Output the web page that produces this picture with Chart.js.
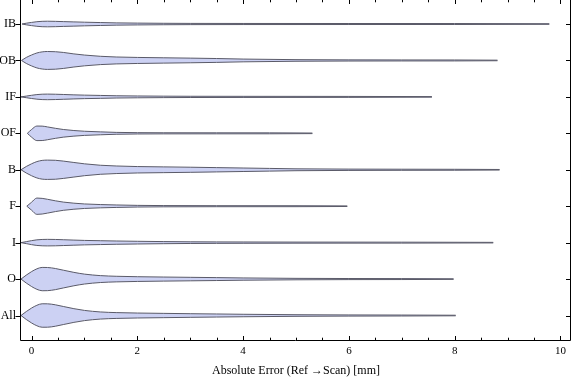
<!DOCTYPE html>
<html>
<head>
<meta charset="utf-8">
<script src="https://cdn.jsdelivr.net/npm/chart.js@4/dist/chart.umd.min.js"></script>
<style>
html,body{margin:0;padding:0;background:#fff;}
#wrap{width:576px;height:381px;position:relative;}
</style>
</head>
<body>
<div id="wrap"><canvas id="c" width="576" height="381"></canvas></div>
<script>
// ---- data ----
const categories = ['IB','OB','IF','OF','B','F','I','O','All'];
const xLabelTicks = [0, 2, 4, 6, 8, 10];
const axisTitle = 'Absolute Error (Ref \u2192Scan) [mm]';
const maxima = [9.79, 8.81, 7.57, 5.31, 8.85, 5.97, 8.73, 7.98, 8.02];

// density outline samples: x positions and half widths (category units) per violin
const xsIB  = [-0.18,-0.1,0,0.1,0.2,0.3,0.45,0.6,0.8,1.0,1.3,1.6,2.0,2.5,3.0,4.0,6.0,8.0];
const hwIB  = [0,0.022,0.044,0.063,0.074,0.077,0.073,0.066,0.058,0.050,0.040,0.031,0.025,0.020,0.017,0.015,0.014,0.013];
const xsOB  = [-0.19,-0.1,0,0.1,0.2,0.3,0.45,0.6,0.8,1.0,1.3,1.6,2.0,2.5,3.0,3.5,4.0,5.0,6.0,7.0,8.0];
const hwOB  = [0,0.082,0.150,0.205,0.235,0.246,0.240,0.220,0.180,0.148,0.114,0.095,0.083,0.073,0.064,0.053,0.038,0.022,0.016,0.014,0.013];
const xsIF  = [-0.2,-0.1,0,0.1,0.2,0.3,0.45,0.6,0.8,1.0,1.3,1.6,2.0,2.5,3.0,4.0,6.0];
const hwIF  = [0,0.022,0.044,0.063,0.074,0.077,0.073,0.066,0.056,0.048,0.040,0.031,0.025,0.020,0.017,0.015,0.013];
const xsOF  = [-0.08,0,0.1,0.2,0.3,0.45,0.6,0.8,1.0,1.3,1.6,2.0,2.5,3.5,4.5];
const hwOF  = [0,0.105,0.200,0.198,0.176,0.138,0.105,0.077,0.057,0.040,0.026,0.018,0.015,0.014,0.013];
const xsB   = [-0.2,-0.1,0,0.1,0.2,0.3,0.45,0.6,0.8,1.0,1.3,1.6,2.0,2.5,3.0,3.5,4.0,4.5,5.0,6.0,7.0,8.0];
const hwB   = [0,0.090,0.164,0.224,0.257,0.265,0.260,0.238,0.200,0.163,0.124,0.104,0.088,0.079,0.070,0.059,0.048,0.037,0.026,0.018,0.015,0.013];
const xsF   = [-0.09,0,0.1,0.2,0.3,0.45,0.6,0.8,1.0,1.3,1.6,2.0,2.5,3.5,5.0];
const hwF   = [0,0.109,0.224,0.215,0.190,0.148,0.113,0.083,0.062,0.045,0.034,0.023,0.017,0.014,0.013];
const xsI   = [-0.2,-0.1,0,0.1,0.2,0.3,0.45,0.6,0.8,1.0,1.3,1.6,2.0,2.5,3.0,3.5,4.0,5.0,7.0];
const hwI   = [0,0.027,0.055,0.077,0.087,0.090,0.087,0.080,0.070,0.061,0.053,0.045,0.037,0.029,0.023,0.020,0.018,0.015,0.013];
const xsO   = [-0.2,-0.1,0,0.1,0.2,0.3,0.45,0.6,0.8,1.0,1.3,1.6,2.0,2.5,3.0,3.5,4.0,5.0,6.0,7.0];
const hwO   = [0,0.109,0.205,0.281,0.320,0.318,0.290,0.244,0.184,0.136,0.095,0.077,0.065,0.056,0.048,0.040,0.031,0.020,0.015,0.013];
const xsAll = [-0.2,-0.1,0,0.1,0.2,0.3,0.45,0.6,0.8,1.0,1.3,1.6,2.0,2.5,3.0,3.5,4.0,5.0,6.0,7.0];
const hwAll = [0,0.109,0.205,0.281,0.322,0.321,0.294,0.248,0.188,0.140,0.098,0.080,0.068,0.059,0.050,0.042,0.034,0.022,0.016,0.013];

const shapes = [[xsIB,hwIB],[xsOB,hwOB],[xsIF,hwIF],[xsOF,hwOF],[xsB,hwB],[xsF,hwF],[xsI,hwI],[xsO,hwO],[xsAll,hwAll]];

// ---- build datasets ----
const fillColor = '#ccd1f3';
const lineColor = '#5a5a68';
const datasets = [];
categories.forEach((cat, i) => {
  const center = categories.length - i;
  const [xs, hw] = shapes[i];
  const up = [], lo = [];
  xs.forEach((x, k) => { if (x < maxima[i]) { up.push({x, y: center + hw[k]}); lo.push({x, y: center - hw[k]}); } });
  up.push({x: maxima[i], y: center + 0.008});
  lo.push({x: maxima[i], y: center - 0.008});
  const common = {borderColor: lineColor, borderWidth: 1, pointRadius: 0, cubicInterpolationMode: 'monotone'};
  datasets.push(Object.assign({label: cat + ' upper', data: up, fill: false}, common));
  datasets.push(Object.assign({label: cat + ' lower', data: lo, fill: '-1', backgroundColor: fillColor}, common));
});

// frame + inward ticks plugin
const framePlugin = {
  id: 'frame',
  afterDraw(chart) {
    const ctx = chart.ctx, a = chart.chartArea;
    const xs = chart.scales.x, ys = chart.scales.y;
    ctx.save();
    ctx.strokeStyle = '#000';
    ctx.lineWidth = 1;
    const L = Math.round(a.left) - 0.5, R = Math.round(a.right) - 0.5, B = Math.round(a.bottom) + 0.5, T = Math.round(a.top) - 0.5;
    ctx.beginPath();
    ctx.moveTo(L, T); ctx.lineTo(L, B); ctx.lineTo(R, B); ctx.lineTo(R, T);
    ctx.stroke();
    ctx.beginPath();
    for (let v = 0; v <= 10.001; v += 0.5) {
      const px = Math.round(xs.getPixelForValue(v)) + 0.5;
      const major = Math.abs(v - Math.round(v / 2) * 2) < 1e-6;
      const len = major ? 4.5 : 2.8;
      ctx.moveTo(px, B); ctx.lineTo(px, B - len);
      ctx.moveTo(px, T); ctx.lineTo(px, T + len);
    }
    categories.forEach((c, i) => {
      const py = Math.round(ys.getPixelForValue(categories.length - i)) + 0.5;
      ctx.moveTo(L - 5, py); ctx.lineTo(L, py);
      ctx.moveTo(R, py); ctx.lineTo(R - 4.5, py);
    });
    ctx.stroke();
    ctx.restore();
  }
};

new Chart(document.getElementById('c'), {
  type: 'line',
  data: {datasets},
  options: {
    responsive: false,
    animation: false,
    events: [],
    layout: {padding: {left: 0, right: 5, top: 0, bottom: 0}},
    plugins: {legend: {display: false}, tooltip: {enabled: false}},
    scales: {
      x: {
        type: 'linear', min: -0.2, max: 10.2,
        grid: {display: false, drawTicks: false},
        border: {display: false},
        afterFit(s) { s.height = 41; s.paddingLeft = 0; s.paddingRight = 0; },
        afterBuildTicks(s) { s.ticks = xLabelTicks.map(v => ({value: v})); },
        ticks: {
          autoSkip: false, maxRotation: 0, padding: 5,
          font: {family: '"Liberation Serif", "Times New Roman", serif', size: 11},
          color: '#000'
        },
        title: {
          display: true, text: axisTitle, color: '#000', padding: {top: 0, bottom: 3},
          font: {family: '"Liberation Serif", "Times New Roman", serif', size: 12}
        }
      },
      y: {
        type: 'linear', min: 0.328, max: 9.659,
        grid: {display: false, drawTicks: false},
        border: {display: false},
        afterFit(s) { s.width = 21; s.paddingTop = 0; s.paddingBottom = 0; },
        afterBuildTicks(s) { s.ticks = categories.map((c, i) => ({value: categories.length - i})); },
        ticks: {
          autoSkip: false, padding: 5,
          callback: (v) => categories[categories.length - v],
          font: {family: '"Liberation Serif", "Times New Roman", serif', size: 12},
          color: '#000'
        }
      }
    }
  },
  plugins: [framePlugin]
});
</script>
</body>
</html>
